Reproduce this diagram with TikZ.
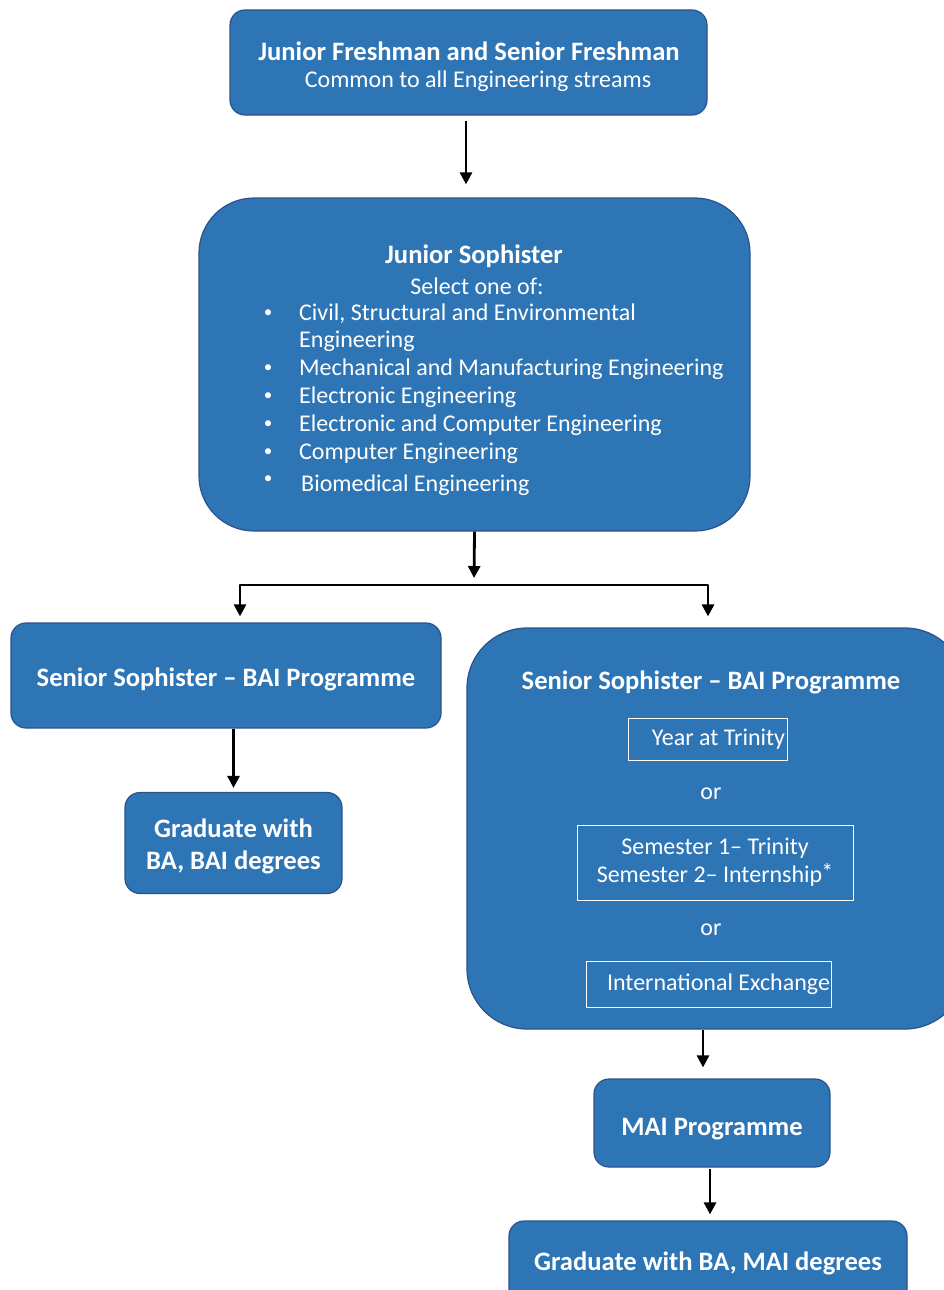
\documentclass[tikz,border=0pt]{standalone}
\usepackage{fontspec}
\setmainfont{Carlito}
\usetikzlibrary{arrows.meta,positioning}
\definecolor{stageblue}{RGB}{46,117,182}
\definecolor{stageedge}{RGB}{44,82,140}

\begin{document}
\begin{tikzpicture}[x=1pt, y=-1pt, line join=bevel]
  % one unit is one pixel of the page, y runs downwards
  \useasboundingbox (0,0) rectangle (944,1290);

  \tikzset{
    stage/.style={draw=stageedge,fill=stageblue,line width=1.2pt,
      text=white,align=center,inner sep=0pt,
      font=\fontsize{26.6}{32}\selectfont\bfseries},
    option_box/.style={draw=white,line width=1pt,text=white,
      align=center,inner sep=0pt,font=\fontsize{24}{28}\selectfont},
    plain_text/.style={text=white,inner sep=0pt,
      font=\fontsize{24}{28}\selectfont},
    title_text/.style={plain_text,font=\fontsize{26.6}{32}\selectfont\bfseries},
    dot_text/.style={plain_text,font=\fontsize{17}{20}\selectfont},
    flow/.style={line width=2.8pt,-{Triangle[width=12pt,length=12pt]}},
  }

  % stages
  \node[stage,rounded corners=15pt,minimum width=477pt,minimum height=105pt]
    (freshman) at (468.5,62.5) {};
  \node[title_text] (freshman_title) at (469,51)
    {Junior Freshman and Senior Freshman};
  \node[plain_text] (freshman_sub) at (478,81)
    {Common to all Engineering streams};

  \node[stage,rounded corners=55pt,minimum width=551pt,minimum height=333pt]
    (jsoph) at (474.5,364.5) {};
  \node[title_text] (jsoph_title) at (474,256) {Junior Sophister};
  \node[plain_text] (jsoph_sub) at (477,286) {Select one of:};
  \foreach \y/\b/\t in {
    314/{\textbullet}/{Civil, Structural and Environmental},
    341/{}/{Engineering},
    369/{\textbullet}/{Mechanical and Manufacturing Engineering},
    397/{\textbullet}/{Electronic Engineering},
    425/{\textbullet}/{Electronic and Computer Engineering},
    453/{\textbullet}/{Computer Engineering}
  }{
    \node[dot_text] (bullet\y) at (268,\y) {\b};
    \node[plain_text,anchor=west] (stream\y) at (299,\y) {\t};
  }
  \node[dot_text] (bullet485) at (268,480) {\textbullet};
  \node[plain_text,anchor=west] (stream485) at (301,485) {Biomedical Engineering};

  \node[stage,rounded corners=15pt,minimum width=430pt,minimum height=105pt,
    text height=27pt]
    (ssoph_bai) at (226,675.5) {Senior Sophister -- BAI Programme};
  \node[stage,rounded corners=15pt,minimum width=217pt,minimum height=101pt,
    text height=57pt]
    (grad_bai) at (233.5,843) {Graduate with\\BA, BAI degrees};

  \node[stage,rounded corners=60pt,minimum width=498pt,minimum height=401pt]
    (ssoph_mai) at (716,828.5) {};
  \node[title_text] (ssoph_mai_title) at (711,682)
    {Senior Sophister -- BAI Programme};
  \node[option_box,minimum width=159pt,minimum height=42pt,
    text width=155pt,align=flush right]
    (year) at (707.5,739) {Year at Trinity};
  \node[plain_text] (or_one) at (711,794) {or};
  \node[option_box,minimum width=276pt,minimum height=75pt]
    (semester) at (715,862.5)
    {Semester 1-- Trinity\\Semester 2-- Internship\kern-1pt\raisebox{2pt}{*}};
  \node[plain_text] (or_two) at (711,930) {or};
  \node[option_box,minimum width=245pt,minimum height=46pt,
    text width=243pt,align=flush right]
    (exchange) at (708.5,984) {International Exchange};

  \node[stage,rounded corners=15pt,minimum width=236pt,minimum height=88pt,
    text height=29pt]
    (mai) at (712,1123) {MAI Programme};
  \node[stage,rounded corners=15pt,minimum width=398pt,minimum height=84pt]
    (grad_mai) at (708,1263) {Graduate with BA, MAI degrees};

  % connectors
  \coordinate (split) at (474,585);
  \coordinate (left_drop) at (240,585);
  \coordinate (right_drop) at (708,585);

  \draw[flow,shorten <=5pt,shorten >=13pt]
    ([xshift=-2.5pt]freshman.south) -- ([xshift=-2.5pt]freshman.south |- jsoph.north);
  \draw[flow,shorten >=7pt] (jsoph.south) -- (split);
  \draw[flow,shorten >=6pt] (split) -| (left_drop |- ssoph_bai.north);
  \draw[flow,shorten >=11pt] (split) -| (right_drop |- ssoph_mai.north);
  \draw[flow,shorten >=4pt] (grad_bai.north |- ssoph_bai.south) -- (grad_bai.north);
  \draw[flow,shorten >=11pt]
    ([xshift=-9pt]mai.north |- ssoph_mai.south) -- ([xshift=-9pt]mai.north);
  \draw[flow,shorten <=1pt,shorten >=6pt]
    ([xshift=-2pt]mai.south) -- ([xshift=-2pt]mai.south |- grad_mai.north);
\end{tikzpicture}
\end{document}
